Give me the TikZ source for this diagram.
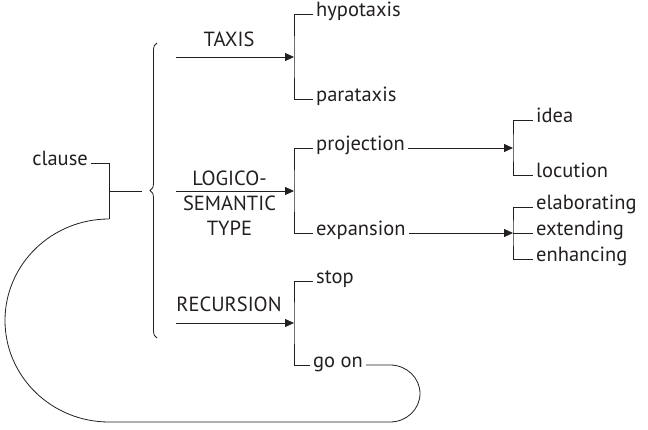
\documentclass[tikz,border=0pt]{standalone}
\usepackage{fontspec}
\setmainfont{PT Sans}
\usetikzlibrary{arrows.meta,decorations.pathreplacing}
\definecolor{ink}{HTML}{231F20}
\begin{document}
\begin{tikzpicture}[x=1pt,y=-1pt,
  font=\fontsize{20.5}{25}\selectfont, text=ink,
  leaf/.style={inner xsep=3pt, inner ysep=0pt, anchor=mid west},
  caplabel/.style={inner sep=0pt, anchor=base},
  ln/.style={draw=ink, line width=0.8pt},
  arr/.style={ln, -{Triangle[length=9pt,width=8pt]}}]
\useasboundingbox (0,0) rectangle (648,430);

% root
\node[leaf, anchor=mid east] (clause) at (91,163) {clause};
\coordinate (cbot) at (109,219);
\coordinate (cmid) at (109,191);
\coordinate (ctip) at (142,191);
\draw[ln] (clause.mid east) -| (cbot);
\draw[ln] (cmid) -- (ctip);

% system brace
\draw[ln, decorate, decoration={brace, amplitude=7pt}] (157,338) -- (157,43);

% TAXIS
\node[caplabel] (taxis) at (229,47) {TAXIS};
\coordinate (s1) at (176,57);
\coordinate (j1) at (294,57);
\node[leaf] (hypo) at (313,14) {hypotaxis};
\node[leaf] (para) at (313,99) {parataxis};
\draw[arr] (s1) -- (j1);
\draw[ln] (hypo.mid west) -| (j1) |- (para.mid west);

% LOGICO-SEMANTIC TYPE
\node[inner sep=0pt, anchor=north, align=center] (lst) at (229.5,171)
  {LOGICO-\\SEMANTIC\\TYPE};
\coordinate (s2) at (176,191);
\coordinate (j2) at (294,191);
\node[leaf] (proj) at (313,148) {projection};
\node[leaf] (expa) at (313,233) {expansion};
\draw[arr] (s2) -- (j2);
\draw[ln] (proj.mid west) -| (j2) |- (expa.mid west);

% projection
\coordinate (j4) at (513,148);
\node[leaf] (idea) at (533,120) {idea};
\node[leaf] (locu) at (533,175) {locution};
\draw[arr] (proj.mid east) -- (j4);
\draw[ln] (idea.mid west) -| (j4) |- (locu.mid west);

% expansion
\coordinate (j5) at (513,233);
\node[leaf] (elab) at (533,207) {elaborating};
\node[leaf] (exte) at (533,233) {extending};
\node[leaf] (enha) at (533,259) {enhancing};
\draw[arr] (expa.mid east) -- (j5);
\draw[ln] (elab.mid west) -| (j5) |- (enha.mid west);
\draw[ln] (j5) -- (exte.mid west);

% RECURSION
\node[caplabel] (recu) at (229,312) {RECURSION};
\coordinate (s3) at (176,323);
\coordinate (j3) at (294,323);
\node[leaf] (stop) at (313,281) {stop};
\node[leaf] (goon) at (310,365) {go on};
\draw[arr] (s3) -- (j3);
\draw[ln] (stop.mid west) -| (j3) |- (goon.mid west);

% recursion loop back to the clause
\coordinate (goR) at (390,365);
\coordinate (loopB) at (109,422);
\draw[ln] (goon.mid east) -- (goR)
  arc[start angle=90, end angle=-90, x radius=30pt, y radius=28.5pt]
  -- (loopB)
  arc[start angle=270, end angle=90, x radius=104pt, y radius=101.5pt]
  -- (cbot);
\end{tikzpicture}
\end{document}
